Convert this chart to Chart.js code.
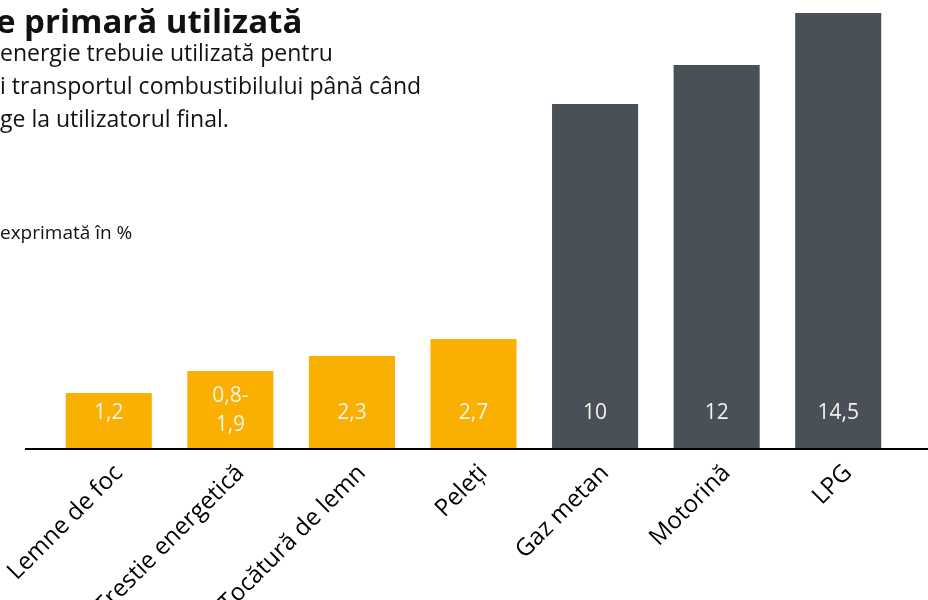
<!DOCTYPE html>
<html>
<head>
<meta charset="utf-8">
<script src="https://cdn.jsdelivr.net/npm/chart.js@4"></script>
<style>
  html, body { margin: 0; padding: 0; background: #fff; }
  #wrap { position: relative; width: 928px; height: 600px; overflow: hidden; }
  #chart { position: absolute; left: 0; top: 0; }
  .txt { position: absolute; white-space: nowrap; color: #111; font-family: "Open Sans", sans-serif; line-height: 1; }
  #title { left: -4px; top: 4px; font-size: 33px; font-weight: bold; }
  .sub { font-size: 23px; left: 0; }
  #unit { left: 0; top: 223px; font-size: 19px; }
</style>
</head>
<body>
<div id="wrap">
  <canvas id="chart" width="928" height="600"></canvas>
  <div class="txt" id="title">e primară utilizată</div>
  <div class="txt sub" style="top:41px">energie trebuie utilizată pentru</div>
  <div class="txt sub" style="top:74px">i transportul combustibilului până când</div>
  <div class="txt sub" style="top:107px">ge la utilizatorul final.</div>
  <div class="txt" id="unit">exprimată în %</div>
</div>
<script>
// =====> data <=====
const categories = ["Lemne de foc", "Trestie energetică", "Tocătură de lemn", "Peleți", "Gaz metan", "Motorină", "LPG"];
const valueLabels = [["1,2"], ["0,8-", "1,9"], ["2,3"], ["2,7"], ["10"], ["12"], ["14,5"]];
// bar heights as drawn in the picture (not proportional to the printed values)
const barHeights = [56, 78, 93, 110, 345, 384, 436];

const yellow = "#F9B000";
const slate = "#495057";
const barColors = [yellow, yellow, yellow, yellow, slate, slate, slate];

// =====> baseline that runs past the plot area <=====
const baselinePlugin = {
  id: "baseline",
  afterDatasetsDraw(chart) {
    const ctx = chart.ctx;
    const y = chart.scales.y.getPixelForValue(0);
    ctx.save();
    ctx.strokeStyle = "#000";
    ctx.lineWidth = 2;
    ctx.beginPath();
    ctx.moveTo(25, y);
    ctx.lineTo(chart.width, y);
    ctx.stroke();
    ctx.restore();
  },
};

// =====> printed values inside the bars <=====
const valueLabelPlugin = {
  id: "valueLabels",
  afterDatasetsDraw(chart) {
    const ctx = chart.ctx;
    const meta = chart.getDatasetMeta(0);
    const base = chart.scales.y.getPixelForValue(0);
    ctx.save();
    ctx.fillStyle = "#F4F2EC";
    ctx.font = "21px 'Open Sans', sans-serif";
    ctx.textAlign = "center";
    ctx.textBaseline = "middle";
    meta.data.forEach((bar, i) => {
      const lines = valueLabels[i];
      if (lines.length === 1) {
        ctx.fillText(lines[0], bar.x, base - 36);
      } else {
        ctx.fillText(lines[0], bar.x, base - 53);
        ctx.fillText(lines[1], bar.x, base - 24);
      }
    });
    ctx.restore();
  },
};

new Chart("chart", {
  type: "bar",
  data: {
    labels: categories,
    datasets: [
      {
        data: barHeights,
        backgroundColor: barColors,
        borderWidth: 0,
        barPercentage: 0.708,
        categoryPercentage: 1,
      },
    ],
  },
  options: {
    responsive: false,
    animation: false,
    layout: { padding: { left: 48, right: 29, top: 13, bottom: 0 } },
    plugins: {
      legend: { display: false },
      tooltip: { enabled: false },
    },
    scales: {
      y: {
        display: false,
        min: 0,
        max: 436,
      },
      x: {
        grid: { display: false },
        border: { display: false },
        ticks: {
          color: "#000",
          font: { size: 24, family: "'Open Sans', sans-serif" },
          minRotation: 45,
          maxRotation: 45,
          autoSkip: false,
          padding: 2,
          labelOffset: 10,
        },
        afterFit(scale) {
          // keep the plot area fixed, long rotated labels may run off the left edge
          scale.height = 151;
          scale.paddingLeft = 0;
          scale.paddingRight = 0;
        },
      },
    },
  },
  plugins: [baselinePlugin, valueLabelPlugin],
});
</script>
</body>
</html>
